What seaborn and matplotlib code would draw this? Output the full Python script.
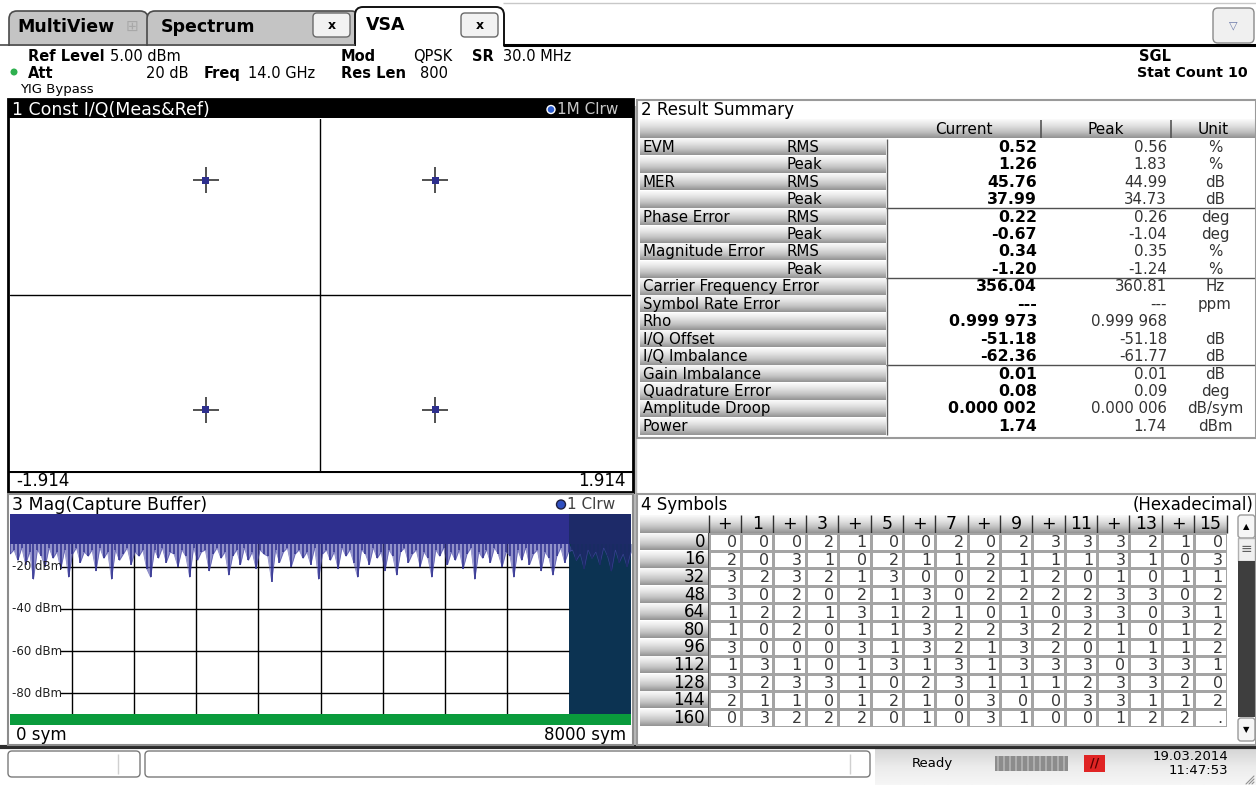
import numpy as np
import matplotlib
matplotlib.use("Agg")
import matplotlib.pyplot as plt
from matplotlib.patches import Rectangle, FancyBboxPatch, Circle
from matplotlib.colors import ListedColormap, LinearSegmentedColormap
import seaborn as sns

W, H = 1256, 797

# constellation, measured points sit on the reference points
const_i = [-0.707, 0.707, -0.707, 0.707]
const_q = [0.707, 0.707, -0.707, -0.707]
const_xlim = 1.914
const_ylim = 1.085

# capture buffer magnitude, trough per block of 50 symbols (dBm)
mag_dbm = [
    -14, -12, -17, -11, -19, -13, -26, -12, -15, -20,
    -11, -16, -13, -21, -12, -25, -14, -11, -18, -13,
    -15, -12, -22, -11, -16, -13, -26, -12, -17, -14,
    -11, -19, -13, -15, -12, -21, -25, -12, -16, -11,
    -18, -13, -14, -20, -12, -15, -25, -11, -17, -13,
    -12, -22, -14, -11, -16, -13, -24, -15, -12, -19,
    -11, -17, -13, -21, -12, -14, -15, -27, -12, -18,
    -13, -11, -20, -14, -12, -16, -13, -19, -11, -26,
    -14, -12, -17, -13, -21, -11, -15, -12, -18, -25,
    -12, -14, -19, -11, -16, -13, -22, -12, -15, -24,
    -13, -11, -18, -14, -12, -20, -13, -16, -25, -12,
    -15, -11, -19, -13, -17, -12, -21, -14, -11, -26,
    -13, -16, -12, -18, -11, -14, -20, -13, -15, -25,
    -12, -17, -11, -19, -14, -12, -22, -13, -16, -24,
    -15, -11, -18, -13, -12, -17, -14, -21, -12, -16,
    -13, -19, -11, -15, -22, -12, -18, -14, -20, -13,
]
mag_floor = -9      # level the dense trace always reaches
mag_len = 8000
result_start = 7200
mag_ref = 5
mag_bottom = -95
mag_grid = [-20, -40, -60, -80]

# result summary
summary_param = ["EVM", "", "MER", "", "Phase Error", "", "Magnitude Error", "",
                 "Carrier Frequency Error", "Symbol Rate Error", "Rho", "I/Q Offset",
                 "I/Q Imbalance", "Gain Imbalance", "Quadrature Error", "Amplitude Droop", "Power"]
summary_stat = ["RMS", "Peak", "RMS", "Peak", "RMS", "Peak", "RMS", "Peak",
                "", "", "", "", "", "", "", "", ""]
summary_current = ["0.52", "1.26", "45.76", "37.99", "0.22", "-0.67", "0.34", "-1.20",
                   "356.04", "---", "0.999 973", "-51.18", "-62.36", "0.01", "0.08",
                   "0.000 002", "1.74"]
summary_peak = ["0.56", "1.83", "44.99", "34.73", "0.26", "-1.04", "0.35", "-1.24",
                "360.81", "---", "0.999 968", "-51.18", "-61.77", "0.01", "0.09",
                "0.000 006", "1.74"]
summary_unit = ["%", "%", "dB", "dB", "deg", "deg", "%", "%", "Hz", "ppm", "", "dB",
                "dB", "dB", "deg", "dB/sym", "dBm"]
summary_breaks = [4, 8, 13]

# symbol table (hexadecimal)
symbol_rows = [0, 16, 32, 48, 64, 80, 96, 112, 128, 144, 160]
symbol_cols = ["+", "1", "+", "3", "+", "5", "+", "7", "+", "9", "+", "11", "+", "13", "+", "15"]
symbols = [
    "0002100202333210",
    "2031021121113103",
    "3232130021201011",
    "3020213022223302",
    "1221312101033031",
    "1020113223221012",
    "3000313213201112",
    "1310131313330331",
    "3233102311123320",
    "2110121030033112",
    "032220103100122.",
]

sns.set_style("white")
plt.rcParams["font.family"] = ["DejaVu Sans"]

NAVY = "#2e2f8e"
fig = plt.figure(figsize=(W / 100, H / 100), dpi=100)
bg = fig.add_axes([0, 0, 1, 1])
bg.axis("off")

btn_cmap = LinearSegmentedColormap.from_list("btn", ["#fafafa", "#e2e2e2", "#c2c2c2", "#949494"])
bar_cmap = LinearSegmentedColormap.from_list("bar", ["#d6d6d6", "#ececec", "#f6f6f6"])
grad = np.linspace(0, 1, 32).reshape(-1, 1)


def box(x0, y0, x1, y1):
    return [x0 / W, 1 - y1 / H, (x1 - x0) / W, (y1 - y0) / H]


def grad_cell(x0, y0, x1, y1, cmap=btn_cmap, z=2):
    bg.imshow(grad, extent=(x0, x1, y1, y0), cmap=cmap, aspect="auto",
              interpolation="bilinear", zorder=z)


def txt(x, y, s, size=10, weight="normal", ha="left", color="black", z=5, **kw):
    bg.text(x, y, s, fontsize=size, fontweight=weight, ha=ha, va="center",
            color=color, zorder=z, **kw)


def hline(y, x0, x1, color="black", lw=1, z=4):
    bg.plot([x0, x1], [y, y], color=color, lw=lw, zorder=z, solid_capstyle="butt")


def vline(x, y0, y1, color="black", lw=1, z=4):
    bg.plot([x, x], [y0, y1], color=color, lw=lw, zorder=z, solid_capstyle="butt")


# ---------- tab bar ----------
hline(3, 503, 1256, color="#c8c8c8", lw=1)
bg.add_patch(FancyBboxPatch((9, 11), 139, 44, boxstyle="round,pad=0,rounding_size=8",
                            fc="#c4c4c4", ec="#4a4a4a", lw=1.2, zorder=1))
bg.add_patch(FancyBboxPatch((147, 11), 212, 44, boxstyle="round,pad=0,rounding_size=8",
                            fc="#c4c4c4", ec="#4a4a4a", lw=1.2, zorder=1.1))
bg.add_patch(FancyBboxPatch((355, 7), 149, 48, boxstyle="round,pad=0,rounding_size=8",
                            fc="white", ec="#111111", lw=1.4, zorder=1.2))
bg.add_patch(Rectangle((0, 45.5), W, 60, fc="white", ec="none", zorder=1.5))
hline(45, 0, 355, color="#4a4a4a", lw=1.2, z=1.6)
hline(45, 503, 1256, color="black", lw=2.2, z=1.6)
txt(17, 27, "MultiView", size=12.5, weight="bold")
txt(126, 26, "\u229e", size=11, color="#a8a8a8")
txt(161, 27, "Spectrum", size=12.5, weight="bold")
txt(366, 25, "VSA", size=12.5, weight="bold")
for bx in (313, 461):
    bg.add_patch(FancyBboxPatch((bx, 13), 37, 24, boxstyle="round,pad=0,rounding_size=4",
                                fc="#f2f2f2", ec="#6a6a6a", lw=1, zorder=3))
    txt(bx + 18.5, 25, "x", size=9, weight="bold", ha="center")
bg.add_patch(FancyBboxPatch((1213, 8), 41, 35, boxstyle="round,pad=0,rounding_size=5",
                            fc="#f0f0f0", ec="#8a8a8a", lw=1, zorder=3))
txt(1233, 25, "\u25bd", size=8, ha="center", color="#6a78a8")

# ---------- info bar ----------
txt(28, 56, "Ref Level", size=10.5, weight="bold")
txt(110, 56, "5.00 dBm", size=10.5)
bg.add_patch(Circle((14, 72), 3.5, fc="#2fb04f", ec="none", zorder=5))
txt(28, 73, "Att", size=10.5, weight="bold")
txt(188, 73, "20 dB", size=10.5, ha="right")
txt(204, 73, "Freq", size=10.5, weight="bold")
txt(248, 73, "14.0 GHz", size=10.5)
txt(20, 89, "YIG Bypass", size=9.5)
txt(341, 56, "Mod", size=10.5, weight="bold")
txt(413, 56, "QPSK", size=10.5)
txt(472, 56, "SR", size=10.5, weight="bold")
txt(503, 56, "30.0 MHz", size=10.5)
txt(341, 73, "Res Len", size=10.5, weight="bold")
txt(420, 73, "800", size=10.5)
txt(1139, 56, "SGL", size=10.5, weight="bold")
txt(1137, 73, "Stat Count 10", size=10.3, weight="bold")

# ---------- panel 1 frame ----------
vline(634.5, 99, 746, color="#b8b8b8", lw=2.5, z=1)
bg.add_patch(Rectangle((8, 100), 625, 18, fc="black", ec="none", zorder=3))
bg.add_patch(Rectangle((8, 99), 625, 393, fc="none", ec="black", lw=2, zorder=6))
txt(12, 109.5, "1 Const I/Q(Meas&Ref)", size=12.5, color="white")
bg.add_patch(Circle((551, 109.5), 4, fc="#2f5fd0", ec="white", lw=1, zorder=5))
txt(557, 109.5, "1M Clrw", size=11, color="#c8c8c8")
hline(472, 8, 633, lw=1.5)
txt(16, 481, "-1.914", size=12)
txt(626, 481, "1.914", size=12, ha="right")

# ---------- panel 3 frame ----------
bg.add_patch(Rectangle((8, 494), 625, 251, fc="none", ec="#8c8c8c", lw=1.5, zorder=6))
txt(12, 504.5, "3 Mag(Capture Buffer)", size=12.5)
bg.add_patch(Circle((561, 504.5), 4.5, fc="#2f4fc0", ec="#202040", lw=1, zorder=5))
txt(567, 504.5, "1 Clrw", size=11, color="#404040")
txt(16, 735, "0 sym", size=12)
txt(626, 735, "8000 sym", size=12, ha="right")

# ---------- panel 2: result summary ----------
bg.add_patch(Rectangle((636.5, 99.5), 619, 338, fc="none", ec="#9a9a9a", lw=1.5, zorder=6))
txt(641, 109.5, "2 Result Summary", size=12)
row_top, row_h = 138.5, 17.45
hdr = [(640, 886, ""), (886, 1041, "Current"), (1041, 1171, "Peak"), (1171, 1256, "Unit")]
for x0, x1, lab in hdr:
    grad_cell(x0, 119.5, x1, row_top - 0.5)
    if lab:
        txt((x0 + x1) / 2, 129, lab, size=11, ha="center")
vline(1041, 120, 138, color="#555555", lw=1.2)
vline(1171, 120, 138, color="#555555", lw=1.2)
for i in range(len(summary_param)):
    y0 = row_top + i * row_h
    yc = y0 + row_h / 2
    grad_cell(640, y0 + 0.5, 886, y0 + row_h - 0.5)
    txt(643, yc, summary_param[i], size=10.8)
    txt(787, yc, summary_stat[i], size=10.8)
    txt(1037, yc, summary_current[i], size=11.3, weight="bold", ha="right")
    txt(1167, yc, summary_peak[i], size=10.8, ha="right", color="#333333")
    txt(1215, yc, summary_unit[i], size=10.8, ha="center", color="#333333")
for b in summary_breaks:
    hline(row_top + b * row_h, 886, 1256, color="#505050", lw=1)
vline(886.5, row_top, row_top + len(summary_param) * row_h, color="#606060", lw=1)

# ---------- panel 4: symbols ----------
bg.add_patch(Rectangle((636.5, 494), 619, 251, fc="none", ec="#9a9a9a", lw=1.5, zorder=6))
txt(641, 505, "4 Symbols", size=12)
txt(1253, 505, "(Hexadecimal)", size=12, ha="right")
sx0, sx1, sy0, sy1 = 708.7, 1226.6, 533.0, 726.6
cw = (sx1 - sx0) / len(symbol_cols)
rh = (sy1 - sy0) / len(symbol_rows)
grad_cell(640, 515, sx0, sy0)
for c, lab in enumerate(symbol_cols):
    grad_cell(sx0 + c * cw, 515, sx0 + (c + 1) * cw, sy0)
    vline(sx0 + c * cw, 515, sy0, color="#303030", lw=1)
    txt(sx0 + (c + 0.5) * cw, 524, lab, size=12.5, ha="center")
vline(sx1, 515, sy0, color="#303030", lw=1)
for r, lab in enumerate(symbol_rows):
    grad_cell(640, sy0 + r * rh + 0.5, sx0 - 1, sy0 + (r + 1) * rh - 0.5)
    txt(705, sy0 + (r + 0.5) * rh, str(lab), size=12, ha="right")
vline(sx0, sy0, sy1, color="#303030", lw=1.2)

# scrollbar
bg.add_patch(FancyBboxPatch((1238, 515), 17, 23, boxstyle="round,pad=0,rounding_size=3",
                            fc="#f6f6f6", ec="#9a9a9a", lw=1, zorder=3))
txt(1246.5, 526.5, "\u25b2", size=6, ha="center")
bg.add_patch(Rectangle((1238, 538), 17, 23, fc="#f0f0f0", ec="#b0b0b0", lw=1, zorder=3))
txt(1246.5, 549.5, "\u2261", size=10, ha="center", color="#606060")
bg.add_patch(Rectangle((1238, 561), 17, 156, fc="#3e3e3e", ec="none", zorder=3))
bg.add_patch(FancyBboxPatch((1238, 718), 17, 23, boxstyle="round,pad=0,rounding_size=3",
                            fc="#f6f6f6", ec="#9a9a9a", lw=1, zorder=3))
txt(1246.5, 729.5, "\u25bc", size=6, ha="center")

# ---------- status bar ----------
hline(747, 0, W, color="#2c2c2c", lw=3)
for bx0, bx1, sep in ((8, 140, 118), (145, 870, 850)):
    bg.add_patch(FancyBboxPatch((bx0, 751), bx1 - bx0, 26, boxstyle="round,pad=0,rounding_size=4",
                                fc="white", ec="#7a7a7a", lw=1, zorder=3))
    vline(sep, 754, 774, color="#d0d0d0", lw=1)
grad_cell(875, 749, W, 785, cmap=bar_cmap, z=1)
txt(912, 763, "Ready", size=9.5)
bg.add_patch(Rectangle((995, 756), 73, 15, fc="#8c8c8c", ec="none", zorder=3))
for k in range(12):
    vline(998 + k * 6, 756, 771, color="#b4b4b4", lw=1.2)
bg.add_patch(Rectangle((1084, 755), 21, 17, fc="#e02424", ec="none", zorder=3))
txt(1094.5, 763.5, "//", size=9, weight="bold", ha="center", color="#5a0000")
txt(1228, 757, "19.03.2014", size=9.5, ha="right")
txt(1228, 771, "11:47:53", size=9.5, ha="right")
for k in range(3):
    bg.plot([1246 + 3 * k, 1254], [784, 776 + 3 * k], color="#909090", lw=0.8, zorder=4)

# ---------- constellation ----------
ax1 = fig.add_axes(box(10, 119, 631, 471))
ax1.set_xlim(-const_xlim, const_xlim)
ax1.set_ylim(-const_ylim, const_ylim)
ax1.axhline(0, color="black", lw=1, zorder=1)
ax1.axvline(0, color="black", lw=1, zorder=1)
ax1.plot(const_i, const_q, ls="none", marker="+", ms=19, mew=1.1, color="#222222", zorder=2)
sns.scatterplot(x=const_i, y=const_q, marker="s", s=24, color=NAVY, edgecolor="none",
                ax=ax1, zorder=3)
ax1.set_xticks([])
ax1.set_yticks([])
for sp in ax1.spines.values():
    sp.set_visible(False)

# ---------- magnitude capture buffer ----------
ax3 = fig.add_axes(box(10, 514, 631, 725))
mag_x = np.arange(len(mag_dbm)) * mag_len / (len(mag_dbm) - 1)
mag_arr = np.array(mag_dbm, dtype=float)
live = mag_x <= result_start
ax3.set_xlim(0, mag_len)
ax3.set_ylim(mag_bottom, mag_ref)
ax3.axvspan(result_start, mag_len, color="#0c3352", lw=0, zorder=0.5)
ax3.hlines(mag_grid, 645, result_start, colors="black", lw=1, zorder=1)
ax3.vlines(np.arange(800, result_start, 800), mag_bottom, mag_ref, colors="black", lw=1, zorder=1)
# dense part of the trace
ax3.fill_between([0, result_start], mag_floor, mag_ref, color=NAVY, lw=0, zorder=2)
ax3.fill_between([result_start, mag_len], mag_floor, mag_ref, color="#1d2a68", lw=0, zorder=2)
ax3.fill_between(mag_x, mag_arr, mag_floor, where=live, color="#4a4aa8", alpha=0.6,
                 lw=0, zorder=2, interpolate=True)
ax3.fill_between(mag_x, mag_arr, mag_floor, where=~live, color="#1d2a68", alpha=0.8,
                 lw=0, zorder=2, interpolate=True)
# individual dips
ax3.vlines(mag_x[live], mag_arr[live], mag_floor, colors=NAVY, lw=1.1, zorder=2.5)
ax3.vlines(mag_x[~live], mag_arr[~live], mag_floor, colors="#1d2a68", lw=1.1, zorder=2.5)
sns.lineplot(x=mag_x, y=mag_arr, color="#4848a8", lw=0.5, alpha=0.7, ax=ax3, zorder=2.4)
ax3.axhspan(mag_bottom, mag_bottom + 5, color="#0a9b3c", lw=0, zorder=3)
for g in mag_grid:
    ax3.text(26, g, f"{g} dBm", fontsize=8.5, va="center", ha="left", color="#202020", zorder=4)
ax3.set_xticks([])
ax3.set_yticks([])
ax3.set_xlabel("")
ax3.set_ylabel("")
for sp in ax3.spines.values():
    sp.set_visible(False)

# ---------- symbol table ----------
ax4 = fig.add_axes(box(sx0, sy0, sx1, sy1))
sns.heatmap(np.zeros((len(symbol_rows), len(symbol_cols))), cmap=ListedColormap(["white"]),
            cbar=False, linewidths=1, linecolor="#a4a4a4", xticklabels=False,
            yticklabels=False, ax=ax4)
for r, row in enumerate(symbols):
    for c, ch in enumerate(row):
        ax4.text(c + 0.88, r + 0.55, ch, ha="right", va="center", fontsize=11.5, color="#3a3a3a")

bg.set_xlim(0, W)
bg.set_ylim(H, 0)
bg.set_aspect("auto")
fig.savefig("out.png", dpi=100)
